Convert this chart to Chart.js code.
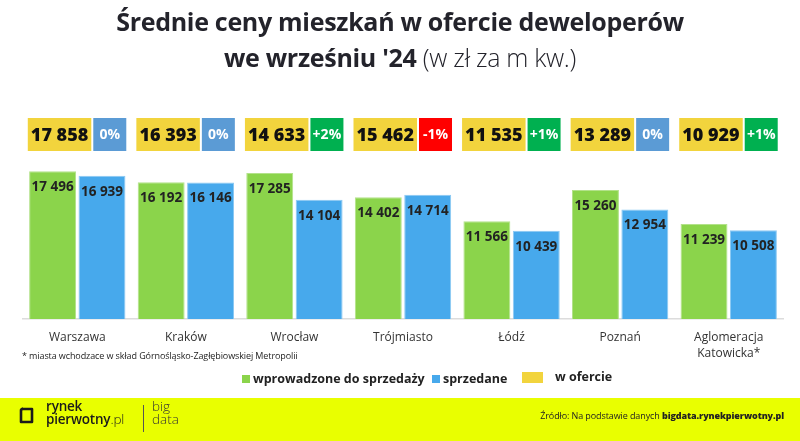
<!DOCTYPE html>
<html>
<head>
<meta charset="utf-8">
<script src="https://cdn.jsdelivr.net/npm/chart.js@4.4.1/dist/chart.umd.min.js"></script>
<style>
  html, body { margin: 0; padding: 0; background: #fff; }
  #wrap { position: relative; width: 800px; height: 441px; overflow: hidden; font-family: "Open Sans", sans-serif; color: #23232b; }
  #c { position: absolute; left: 0; top: 0; }
  .title { position: absolute; left: 0; width: 800px; text-align: center; font-weight: 700; font-size: 25px; letter-spacing: -0.3px; white-space: nowrap; }
  .title .light { font-weight: 300; }
  #foot { position: absolute; left: 22px; top: 349px; font-size: 9px; color: #222; white-space: nowrap; letter-spacing: -0.1px; }
  #legend { position: absolute; top: 368px; left: 0; width: 800px; height: 20px; font-weight: 700; font-size: 12.5px; color: #222; }
  #legend span { position: absolute; white-space: nowrap; }
  #legend i { position: absolute; display: block; }
  #banner { position: absolute; left: 0; top: 398px; width: 800px; height: 43px; background: #e9ff00; }
  #src { position: absolute; right: 16px; top: 11px; font-size: 9px; color: #222; white-space: nowrap; letter-spacing: -0.1px; }
  #src b { font-weight: 800; }
</style>
</head>
<body>
<div id="wrap">
  <canvas id="c" width="800" height="441"></canvas>
  <div class="title" style="top:4px;">Średnie ceny mieszkań w ofercie deweloperów</div>
  <div class="title" style="top:40px;">we wrześniu '24 <span class="light">(w zł za m kw.)</span></div>
  <div id="foot">* miasta wchodzace w skład Górnośląsko-Zagłębiowskiej Metropolii</div>
  <div id="legend">
    <i style="left:242px; top:7px; width:8px; height:8px; background:#8bd44b;"></i>
    <span style="left:253px; top:2px;">wprowadzone do sprzedaży</span>
    <i style="left:432px; top:7px; width:8px; height:8px; background:#47a9ec;"></i>
    <span style="left:443px; top:2px;">sprzedane</span>
    <i style="left:522px; top:4px; width:21px; height:11px; background:#f2d43d;"></i>
    <span style="left:555px; top:0px;">w ofercie</span>
  </div>
  <div id="banner">
    <svg style="position:absolute; left:19px; top:9px;" width="15" height="18" viewBox="0 0 15 18">
      <path d="M3 2 H13 V15 H2 V3 Z" fill="none" stroke="#1b1b1b" stroke-width="2.6" stroke-linejoin="round"/>
      <path d="M2 3 L4 1" stroke="#1b1b1b" stroke-width="2"/>
    </svg>
    <div style="position:absolute; left:46px; top:2px; font-size:13.5px; font-weight:600; line-height:13px; color:#1b1b1b; letter-spacing:-0.2px;">rynek<br>pierwotny<span style="font-weight:300;">.pl</span></div>
    <div style="position:absolute; left:143px; top:7px; width:1px; height:27px; background:#555;"></div>
    <div style="position:absolute; left:152px; top:2px; font-size:13.5px; font-weight:300; line-height:13px; color:#333;">big<br>data</div>
    <div id="src">Źródło: Na podstawie danych <b>bigdata.rynekpierwotny.pl</b></div>
  </div>
</div>
<script>
const cities = ["Warszawa", "Kraków", "Wrocław", "Trójmiasto", "Łódź", "Poznań", ["Aglomeracja", "Katowicka*"]];
const introduced = [17496, 16192, 17285, 14402, 11566, 15260, 11239];
const sold = [16939, 16146, 14104, 14714, 10439, 12954, 10508];
const offer = [17858, 16393, 14633, 15462, 11535, 13289, 10929];
const offerChange = ["0%", "0%", "+2%", "-1%", "+1%", "0%", "+1%"];

function fmt(v) { return String(v).replace(/\B(?=(\d{3})+(?!\d))/g, " "); }
function changeColor(s) { return s.startsWith("+") ? "#00b050" : (s.startsWith("-") ? "#ff0000" : "#5b9bd5"); }

const labelsPlugin = {
  id: "labels",
  afterDatasetsDraw(chart) {
    const ctx = chart.ctx;
    ctx.save();
    ctx.textAlign = "center";
    ctx.textBaseline = "middle";
    ctx.fillStyle = "#222";
    ctx.font = "bold 13.5px 'Open Sans'";
    chart.data.datasets.forEach((ds, di) => {
      chart.getDatasetMeta(di).data.forEach((el, i) => {
        ctx.fillText(fmt(ds.data[i]), el.x, el.y + 16);
      });
    });
    const xs = chart.scales.x;
    offer.forEach((v, i) => {
      const cx = xs.getPixelForValue(i);
      const y = 118, h = 33;
      ctx.fillStyle = "#f2d43d";
      ctx.fillRect(cx - 49.5, y, 63.5, h);
      ctx.fillStyle = changeColor(offerChange[i]);
      ctx.fillRect(cx + 16, y, 33, h);
      ctx.fillStyle = "#111";
      ctx.font = "800 18px 'Open Sans'";
      ctx.fillText(fmt(v), cx - 49.5 + 31.75, y + h / 2 + 1);
      ctx.fillStyle = "#fff";
      ctx.font = "bold 14px 'Open Sans'";
      ctx.fillText(offerChange[i], cx + 32.5, y + h / 2 + 1);
    });
    ctx.restore();
  }
};

new Chart(document.getElementById("c"), {
  type: "bar",
  data: {
    labels: cities,
    datasets: [
      { label: "wprowadzone do sprzedaży", data: introduced, backgroundColor: "#8bd44b", borderColor: "#b3e28a", borderWidth: 1, barPercentage: 0.95, categoryPercentage: 0.91 },
      { label: "sprzedane", data: sold, backgroundColor: "#47a9ec", borderColor: "#8cc9f3", borderWidth: 1, barPercentage: 0.95, categoryPercentage: 0.91 }
    ]
  },
  options: {
    responsive: false,
    animation: false,
    layout: { padding: { left: 23, right: 17, top: 150, bottom: 72 } },
    plugins: { legend: { display: false }, tooltip: { enabled: false } },
    scales: {
      y: { display: false, min: 0, max: 20000 },
      x: {
        grid: { display: false, drawTicks: false },
        border: { display: true, color: "#dcdcdc", width: 1.5 },
        ticks: { color: "#333", font: { family: "'Open Sans'", size: 12, lineHeight: 1.35 }, padding: 10, maxRotation: 0, autoSkip: false },
        afterFit(scale) { scale.height = 50; }
      }
    }
  },
  plugins: [labelsPlugin]
});
</script>
</body>
</html>
